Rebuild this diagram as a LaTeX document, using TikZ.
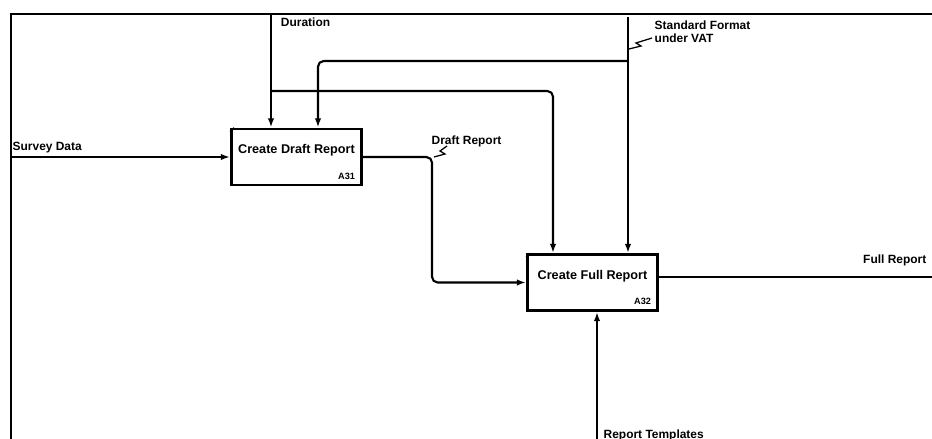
\documentclass[tikz,border=0pt]{standalone}
\usepackage{fontspec}
\setmainfont{Liberation Sans}
\usetikzlibrary{arrows.meta}

\begin{document}
\begin{tikzpicture}[x=0.025cm, y=-0.025cm,
    every node/.style={font=\bfseries\fontsize{8.5}{9.5}\selectfont},
    activity/.style={draw, line width=2pt, minimum width=3.25cm, minimum height=1.4cm,
        inner sep=0pt, text depth=11pt, font=\bfseries\fontsize{9}{10}\selectfont},
    code/.style={anchor=south east, font=\bfseries\fontsize{6.5}{7}\selectfont},
    flow/.style={line width=1.5pt, -{Latex[length=6.5pt, width=4.5pt]}},
    plain/.style={line width=1.5pt}]

    \useasboundingbox (0,0) rectangle (932,439);

    % frame
    \draw[line width=1.2pt] (932,14) -- (11,14) -- (11,439);

    % Activity boxes
    \node[activity] (draft) at (296.5,157) {Create Draft Report};
    \node[code] at ([shift={(-3,-2)}]draft.south east) {A31};
    \draw[line width=0.8pt] ([shift={(0,4)}]draft.north west) -- ([shift={(4,0)}]draft.north west);

    \node[activity] (full) at (592.5,282.5) {Create Full Report};
    \node[code] at ([shift={(-3,-2)}]full.south east) {A32};
    \draw[line width=0.8pt] ([shift={(0,4)}]full.north west) -- ([shift={(4,0)}]full.north west);

    % border points
    \coordinate (durTop) at (271,15);
    \coordinate (stdTop) at (628,17);
    \coordinate (survIn) at (11,157);
    \coordinate (fullOut) at (932,277);
    \coordinate (tmplIn) at (597,439);

    % Duration
    \draw[flow] (durTop) -- (draft.north -| durTop);
    \node[anchor=west] (durLbl) at (276,22) {Duration};
    \coordinate (durJoin) at (271,91);
    \coordinate (durCol) at (553,0);
    \draw[flow, rounded corners=4] (durJoin) -| (full.north -| durCol);

    % Standard Format under VAT
    \draw[flow] (stdTop) -- (full.north -| stdTop);
    \node[anchor=north west, align=left, inner sep=1pt] (stdLbl) at (653,19) {Standard Format\\under VAT};
    \draw[line width=0.9pt] (629,49) -- (641,46) -- (636,43) -- (652,38);
    \coordinate (stdJoin) at (628,61);
    \coordinate (stdCol) at (318,0);
    \draw[flow, rounded corners=4] (stdJoin) -| (draft.north -| stdCol);

    % Survey Data
    \draw[flow] (survIn) -- (draft.west);
    \node[anchor=west, inner sep=1pt] (survLbl) at (11,148) {Survey Data};

    % Draft Report
    \coordinate (drBend) at (432,0);
    \draw[flow, rounded corners=4] (draft.east) -| (drBend |- full.west) -- (full.west);
    \node[anchor=west, inner sep=1pt] (drLbl) at (430,141) {Draft Report};
    \draw[line width=0.9pt] (434,157) -- (445,154) -- (440,151) -- (447,146);

    % Full Report
    \draw[plain] (full.east |- fullOut) -- (fullOut);
    \node[anchor=east, inner sep=1pt] (fullLbl) at (928,260) {Full Report};

    % Report Templates
    \draw[flow] (tmplIn) -- (full.south -| tmplIn);
    \node[anchor=west, inner sep=1pt] (tmplLbl) at (602,435) {Report Templates};

\end{tikzpicture}
\end{document}
